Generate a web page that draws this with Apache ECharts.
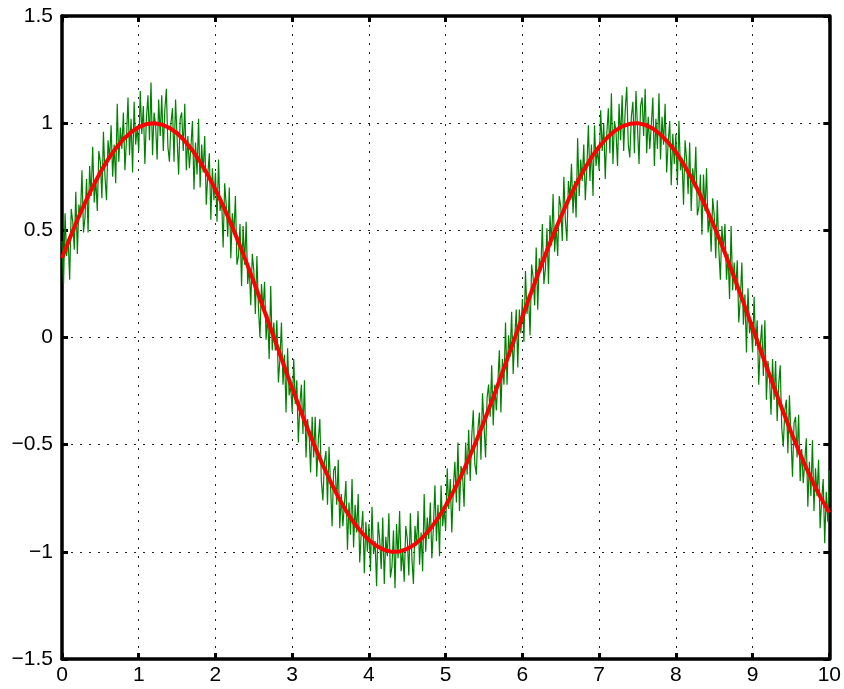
<!DOCTYPE html>
<html>
<head>
<meta charset="utf-8">
<script src="https://cdn.jsdelivr.net/npm/echarts@6/dist/echarts.min.js"></script>
<style>
html,body{margin:0;padding:0;background:#fff;}
#chart{width:844px;height:689px;}
</style>
</head>
<body>
<div id="chart"></div>
<script>
// x sampling of the two curves
const redStart = 0, redStep = 0.1;
const greenStart = 0, greenStep = 0.02;

// smooth red curve, read at x = 0, 0.1, ..., 10
const redValues = [
  0.371, 0.462, 0.548, 0.629, 0.703, 0.771, 0.831, 0.882, 0.925, 0.958,
  0.982, 0.996, 1.000, 0.994, 0.978, 0.953, 0.917, 0.873, 0.820, 0.759,
  0.690, 0.614, 0.533, 0.445, 0.354, 0.259, 0.161, 0.062, -0.038, -0.138,
  -0.236, -0.332, -0.425, -0.513, -0.596, -0.673, -0.744, -0.807, -0.862, -0.908,
  -0.945, -0.973, -0.991, -1.000, -0.998, -0.986, -0.965, -0.933, -0.893, -0.843,
  -0.785, -0.720, -0.647, -0.567, -0.482, -0.392, -0.299, -0.202, -0.103, -0.003,
  0.097, 0.196, 0.293, 0.387, 0.477, 0.562, 0.642, 0.715, 0.781, 0.840,
  0.890, 0.931, 0.963, 0.985, 0.997, 1.000, 0.992, 0.975, 0.947, 0.910,
  0.865, 0.810, 0.748, 0.678, 0.601, 0.518, 0.430, 0.338, 0.242, 0.144,
  0.045, -0.055, -0.155, -0.252, -0.348, -0.440, -0.527, -0.609, -0.686, -0.755,
  -0.816
];

// noisy green signal, read at x = 0, 0.02, ..., 10
const greenValues = [
  0.45, 0.25, 0.58, 0.38, 0.46, 0.27, 0.60, 0.54, 0.41, 0.68,
  0.39, 0.62, 0.56, 0.78, 0.49, 0.56, 0.74, 0.49, 0.80, 0.66,
  0.89, 0.63, 0.74, 0.59, 0.87, 0.82, 0.65, 0.96, 0.75, 0.64,
  0.92, 0.83, 0.99, 0.75, 0.90, 0.72, 1.09, 0.82, 0.98, 0.88,
  1.05, 0.78, 0.92, 1.12, 0.85, 1.02, 0.77, 1.10, 0.90, 0.98,

  0.87, 1.15, 0.95, 1.08, 0.81, 1.02, 1.13, 0.92, 1.19, 0.85,
  1.05, 0.99, 0.83, 1.11, 0.94, 1.13, 0.87, 1.06, 1.16, 0.89,
  0.82, 1.00, 1.07, 0.82, 1.11, 0.93, 0.76, 1.02, 1.05, 0.87,
  1.09, 0.78, 0.94, 0.79, 0.89, 1.01, 0.69, 0.91, 0.76, 1.02,
  0.70, 0.90, 0.77, 0.94, 0.62, 0.76, 0.86, 0.55, 0.79, 0.64,

  0.77, 0.54, 0.83, 0.59, 0.65, 0.42, 0.72, 0.62, 0.47, 0.70,
  0.37, 0.58, 0.48, 0.66, 0.34, 0.38, 0.53, 0.24, 0.52, 0.34,
  0.54, 0.25, 0.33, 0.15, 0.39, 0.31, 0.11, 0.38, 0.14, 0.00,
  0.25, 0.13, 0.26, -0.01, 0.11, -0.10, 0.24, -0.06, 0.07, -0.06,
  0.08, -0.21, -0.10, 0.07, -0.22, -0.08, -0.35, -0.05, -0.27, -0.22,

  -0.35, -0.10, -0.31, -0.20, -0.49, -0.31, -0.22, -0.45, -0.20, -0.56,
  -0.38, -0.45, -0.63, -0.37, -0.56, -0.37, -0.65, -0.48, -0.38, -0.67,
  -0.76, -0.58, -0.53, -0.78, -0.51, -0.69, -0.88, -0.62, -0.60, -0.78,
  -0.57, -0.89, -0.73, -0.88, -0.78, -0.67, -0.99, -0.77, -0.92, -0.66,
  -0.98, -0.78, -0.91, -0.73, -1.05, -0.91, -0.81, -1.10, -0.86, -1.00,

  -0.87, -1.09, -0.79, -1.01, -0.95, -1.16, -0.86, -0.94, -1.08, -0.84,
  -1.15, -0.93, -1.02, -0.82, -1.12, -1.07, -0.90, -1.17, -0.87, -1.03,
  -0.81, -1.09, -0.99, -1.14, -0.88, -0.94, -1.11, -0.82, -1.03, -1.15,
  -0.88, -0.97, -0.81, -1.06, -0.91, -1.09, -0.73, -1.00, -0.84, -0.94,
  -0.77, -1.03, -0.89, -0.69, -0.95, -0.78, -1.02, -0.69, -0.88, -0.80,

  -0.90, -0.61, -0.80, -0.66, -0.91, -0.70, -0.58, -0.77, -0.49, -0.81,
  -0.60, -0.64, -0.79, -0.49, -0.64, -0.43, -0.67, -0.46, -0.34, -0.59,
  -0.64, -0.43, -0.35, -0.57, -0.26, -0.41, -0.56, -0.28, -0.22, -0.37,
  -0.13, -0.41, -0.22, -0.34, -0.21, -0.06, -0.35, -0.10, -0.22, 0.07,
  -0.22, 0.01, -0.09, 0.12, -0.17, 0.00, 0.13, -0.14, 0.13, 0.02,

  0.18, -0.02, 0.31, 0.11, 0.20, 0.01, 0.34, 0.28, 0.15, 0.42,
  0.13, 0.37, 0.31, 0.53, 0.25, 0.32, 0.51, 0.25, 0.57, 0.43,
  0.67, 0.40, 0.52, 0.38, 0.66, 0.61, 0.45, 0.75, 0.55, 0.45,
  0.73, 0.65, 0.81, 0.58, 0.73, 0.56, 0.93, 0.66, 0.83, 0.73,
  0.90, 0.64, 0.79, 0.99, 0.73, 0.90, 0.66, 0.99, 0.80, 0.88,

  0.78, 1.06, 0.87, 1.00, 0.74, 0.95, 1.07, 0.86, 1.14, 0.81,
  1.01, 0.96, 0.80, 1.09, 0.92, 1.13, 0.87, 1.06, 1.17, 0.90,
  0.84, 1.03, 1.10, 0.86, 1.15, 0.98, 0.81, 1.08, 1.12, 0.94,
  1.16, 0.86, 1.03, 0.88, 0.99, 1.12, 0.80, 1.02, 0.88, 1.14,
  0.83, 1.03, 0.90, 1.09, 0.77, 0.91, 1.01, 0.71, 0.95, 0.81,

  0.95, 0.71, 1.01, 0.78, 0.84, 0.62, 0.92, 0.83, 0.67, 0.91,
  0.59, 0.79, 0.70, 0.89, 0.57, 0.61, 0.76, 0.48, 0.76, 0.59,
  0.79, 0.49, 0.57, 0.40, 0.65, 0.57, 0.37, 0.64, 0.41, 0.27,
  0.52, 0.40, 0.53, 0.27, 0.39, 0.18, 0.52, 0.22, 0.35, 0.22,
  0.36, 0.07, 0.18, 0.35, 0.06, 0.20, -0.07, 0.23, 0.02, 0.07,

  -0.07, 0.19, -0.04, 0.08, -0.22, -0.04, 0.06, -0.18, 0.08, -0.29,
  -0.11, -0.18, -0.36, -0.10, -0.29, -0.11, -0.39, -0.22, -0.13, -0.42,
  -0.51, -0.34, -0.29, -0.54, -0.27, -0.46, -0.65, -0.40, -0.37, -0.56,
  -0.36, -0.67, -0.52, -0.68, -0.58, -0.47, -0.79, -0.58, -0.74, -0.48,
  -0.81, -0.61, -0.74, -0.57, -0.89, -0.76, -0.66, -0.96, -0.72, -0.86,

  -0.62
];

const xTicks = {min: 0, max: 10, interval: 1};
const yTicks = {min: -1.5, max: 1.5, interval: 0.5};

const redData = redValues.map((v, i) => [+(redStart + i * redStep).toFixed(2), v]);
const greenData = greenValues.map((v, i) => [+(greenStart + i * greenStep).toFixed(2), v]);

const fontFamily = '"Liberation Sans", Arial, sans-serif';
const minusFmt = v => String(v).replace('-', '\u2212');
const dotted = {color: '#222', width: 1, type: [2, 7]};
const tick = {show: true, inside: true, length: 6, lineStyle: {color: '#000', width: 3}};
const line = {show: true, onZero: false, lineStyle: {color: '#000', width: 3.5}};

const chart = echarts.init(document.getElementById('chart'), null, {renderer: 'canvas'});
chart.setOption({
  animation: false,
  backgroundColor: '#fff',
  grid: {left: 62, right: 13, top: 16, bottom: 30, containLabel: false},
  xAxis: [
    {type: 'value', position: 'bottom', min: xTicks.min, max: xTicks.max, interval: xTicks.interval,
     axisLine: line, axisTick: tick,
     axisLabel: {color: '#000', fontSize: 21, fontFamily, margin: 6, formatter: minusFmt, showMinLabel: true, showMaxLabel: true},
     splitLine: {show: true, lineStyle: dotted}},
    {type: 'value', position: 'top', min: xTicks.min, max: xTicks.max, interval: xTicks.interval,
     axisLine: line, axisTick: tick, axisLabel: {show: false}, splitLine: {show: false}}
  ],
  yAxis: [
    {type: 'value', position: 'left', min: yTicks.min, max: yTicks.max, interval: yTicks.interval,
     axisLine: line, axisTick: tick,
     axisLabel: {color: '#000', fontSize: 21, fontFamily, margin: 9, formatter: minusFmt, showMinLabel: true, showMaxLabel: true},
     splitLine: {show: true, lineStyle: dotted}},
    {type: 'value', position: 'right', min: yTicks.min, max: yTicks.max, interval: yTicks.interval,
     axisLine: line, axisTick: tick, axisLabel: {show: false}, splitLine: {show: false}}
  ],
  series: [
    {type: 'line', data: greenData, showSymbol: false, symbol: 'none',
     lineStyle: {color: '#008000', width: 1.2}, z: 2},
    {type: 'line', data: redData, showSymbol: false, symbol: 'none',
     lineStyle: {color: '#ff0000', width: 4}, z: 3}
  ]
});
</script>
</body>
</html>
